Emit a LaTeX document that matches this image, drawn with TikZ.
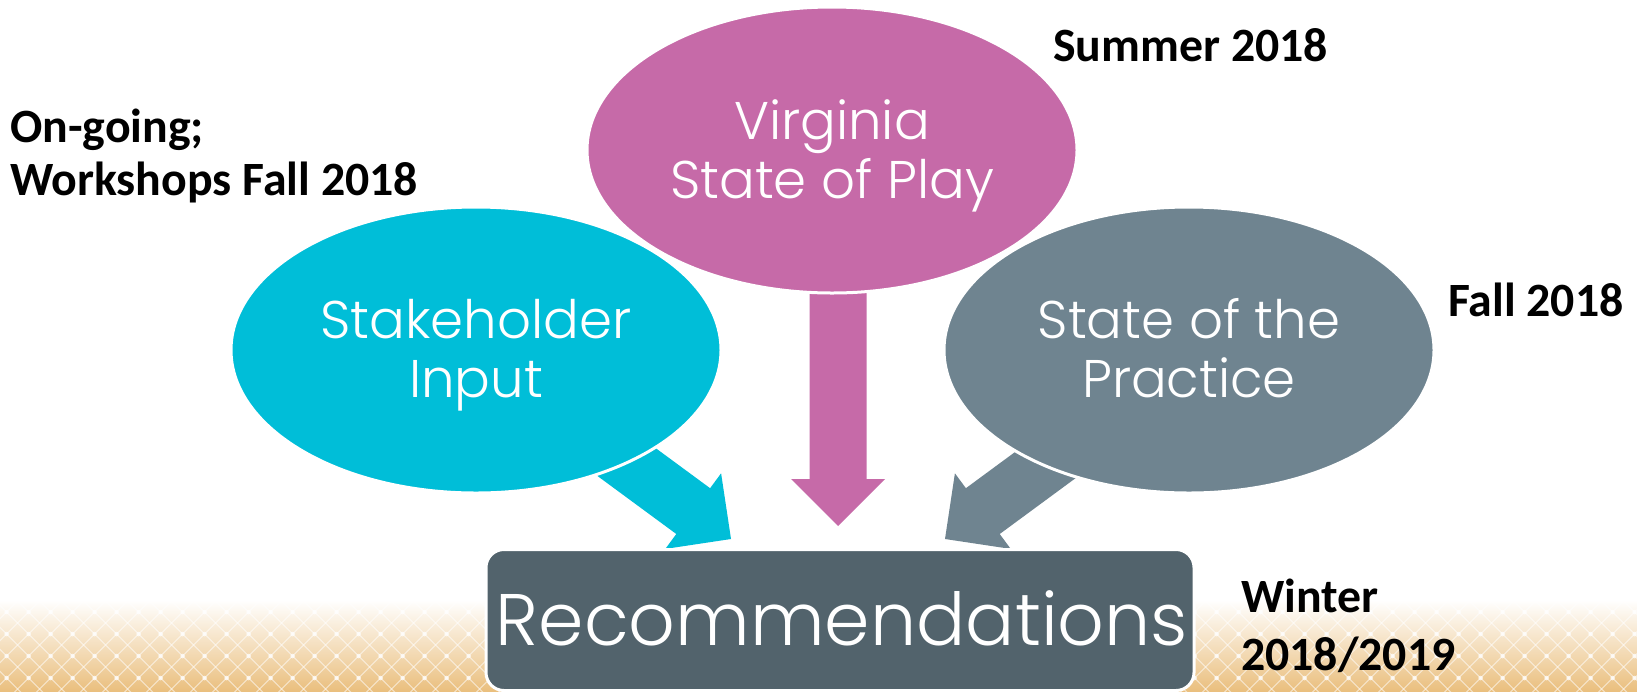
\documentclass[tikz,border=0pt]{standalone}
\usepackage{fontspec}
\setmainfont{Carlito}
\newfontfamily\gothic{Poppins}[UprightFont=* Light]
\usetikzlibrary{shapes.geometric}
\definecolor{cyanC}{HTML}{00BED8}
\definecolor{pinkC}{HTML}{C66AA8}
\definecolor{grayC}{HTML}{6F8490}
\definecolor{rectC}{HTML}{52636C}
\definecolor{tanM}{HTML}{F5DDB6}
\definecolor{tanB}{HTML}{EABF7E}
\tikzset{
  blob/.style={ellipse, draw=white, line width=3pt, minimum width=490pt, minimum height=286pt, inner sep=0pt},
  intext/.style={text=white, font=\gothic\fontsize{53}{59}\selectfont, anchor=base, inner sep=0pt},
  datelbl/.style={text=black, font=\bfseries\fontsize{47.8}{52}\selectfont, anchor=base west, inner sep=0pt},
  latt/.style={white, opacity=0.55, line width=1.1pt},
}
\begin{document}
\begin{tikzpicture}[x=1pt,y=-1pt]
\useasboundingbox (0,0) rectangle (1637,691);
\fill[white] (0,0) rectangle (1637,691);
% background band
\shade[top color=white, middle color=tanM, bottom color=tanB] (0,600) rectangle (1637,691);
\begin{scope}
\clip (0,600) rectangle (1637,691);
\foreach \k in {-6,...,80} {
  \draw[latt] ({6.6+22*\k-50},584) -- ({6.6+22*\k+70},704);
  \draw[latt] ({6.6+22*\k+50},584) -- ({6.6+22*\k-70},704);
}
\foreach \i in {0,...,75} {
  \foreach \j in {0,...,3} {
    \fill[white, opacity=0.75] ({6.6+22*\i},{612+22*\j}) circle (2.3pt);
  }
}
\end{scope}
% block arrows (drawn beneath the ellipses)
\fill[cyanC] (586.9,397.5) -- (710.1,488.2) -- (721.1,473.3) -- (731,539) -- (665.3,548.9) -- (676.3,534.0) -- (553.1,443.3) -- cycle;
\fill[grayC] (1089.1,397.5) -- (965.9,488.2) -- (954.9,473.3) -- (945,539) -- (1010.7,548.9) -- (999.7,534.0) -- (1122.9,443.3) -- cycle;
\fill[pinkC] (809.5,250) -- (809.5,479) -- (791,479) -- (838,526) -- (885,479) -- (866.5,479) -- (866.5,250) -- cycle;
% ellipses
\node[blob, fill=cyanC] (stake) at (476,350) {};
\node[blob, fill=grayC] (practice) at (1189,350) {};
\node[blob, fill=pinkC] (play) at (832,150) {};
\node[intext] (t1a) at (832,139) {Virginia};
\node[intext] (t1b) at (832,198) {State of Play};
\node[intext] (t2a) at (476,338) {Stakeholder};
\node[intext] (t2b) at (476,397) {Input};
\node[intext] (t3a) at (1189,338) {State of the};
\node[intext] (t3b) at (1189,397) {Practice};
% recommendations box
\node[rectangle, rounded corners=18pt, fill=rectC, draw=white, line width=3pt, minimum width=708pt, minimum height=141pt, inner sep=0pt] (rec) at (840,620) {};
\node[text=white, font=\gothic\fontsize{73}{80}\selectfont, anchor=base, inner sep=0pt] (rect) at (842,645) {Recommendations};
% date labels
\node[datelbl] (d1a) at (10,142.7) {On-going;};
\node[datelbl] (d1b) at (10,195) {Workshops Fall 2018};
\node[datelbl] (d2) at (1053,61.7) {Summer 2018};
\node[datelbl] (d3) at (1448,316.7) {Fall 2018};
\node[datelbl] (d4a) at (1241,612) {Winter};
\node[datelbl] (d4b) at (1241,670) {2018/2019};
\end{tikzpicture}
\end{document}
